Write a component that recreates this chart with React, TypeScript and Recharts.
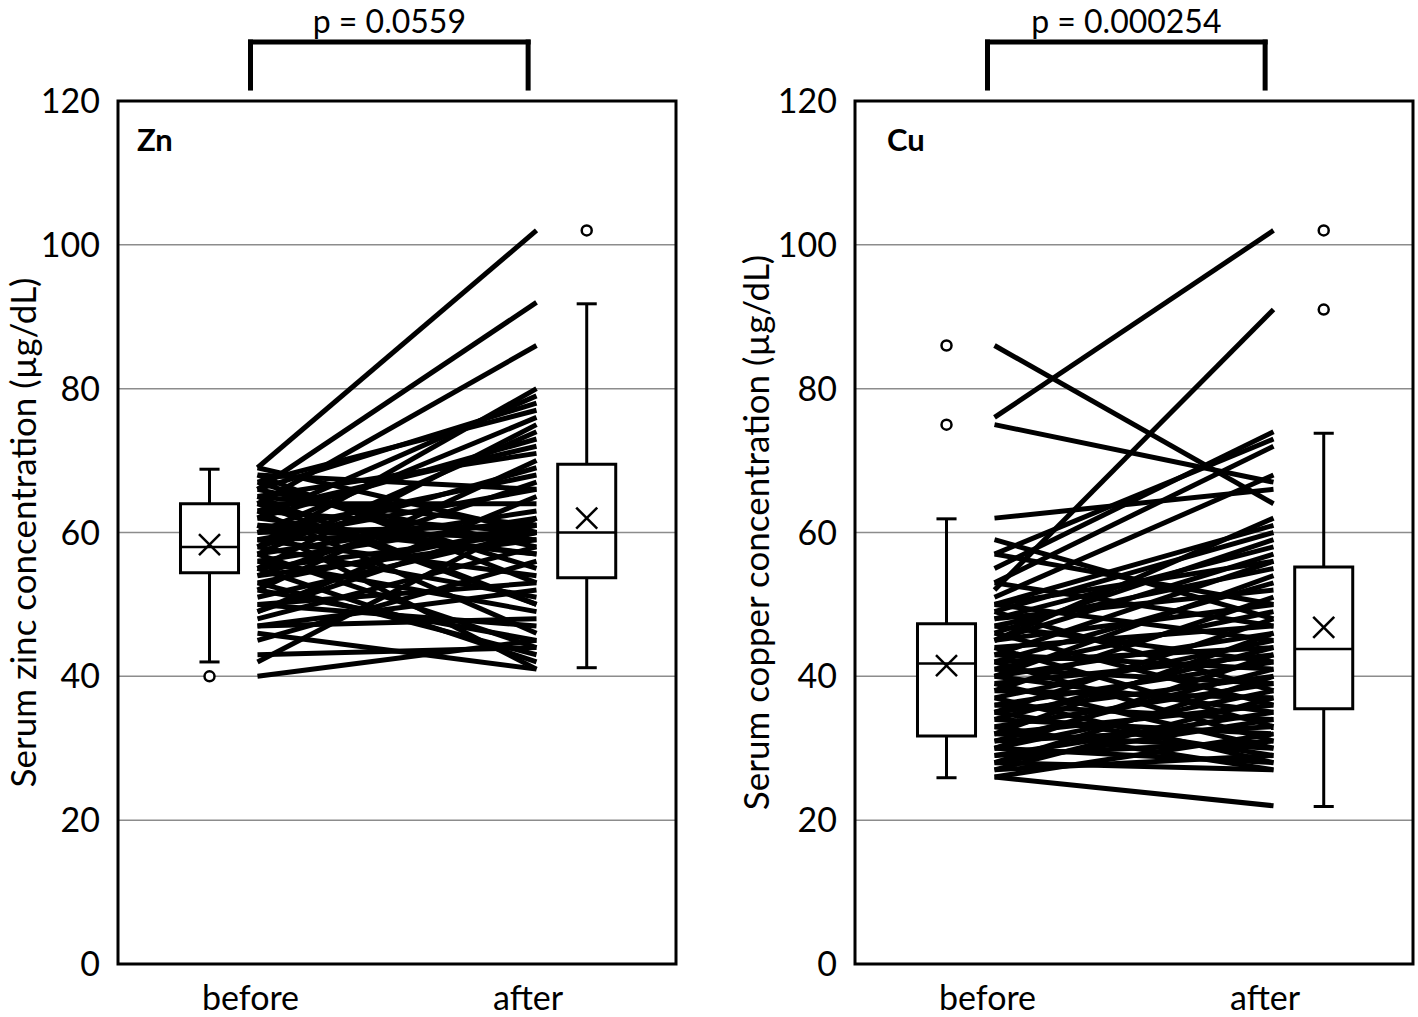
import { ComposedChart, Line, Scatter, XAxis, YAxis, CartesianGrid, ReferenceArea, ReferenceLine, ReferenceDot, Label } from 'recharts'

const categories = ['before', 'after']
const yTicks = [0, 20, 40, 60, 80, 100, 120]

// paired values, one line per patient (approximate)
const zincBefore = [69, 66, 64, 40, 42, 43, 46, 47, 48, 49, 50, 51, 52, 53, 54, 55, 56, 57, 58, 59, 60, 61, 62, 63, 64, 65, 66, 67, 68, 69, 45, 47, 50, 52, 54, 55, 56, 57, 58, 59, 60, 61, 62, 63, 64, 65, 66, 67, 68, 58, 60, 62, 57, 59, 61, 55, 63, 65, 53, 49]
const zincAfter = [102, 92, 86, 45, 62, 44, 41, 52, 58, 65, 47, 60, 70, 43, 59, 75, 49, 63, 80, 54, 68, 41, 57, 72, 50, 61, 78, 55, 66, 60, 56, 48, 53, 45, 67, 42, 62, 74, 51, 60, 76, 59, 79, 46, 64, 71, 58, 77, 53, 69, 61, 73, 44, 66, 57, 60, 60, 50, 61, 62]

const copperBefore = [86, 76, 75, 62, 59, 57, 55, 53, 52, 51, 50, 50, 49, 49, 48, 48, 47, 47, 46, 46, 45, 45, 44, 44, 43, 43, 42, 42, 42, 41, 41, 40, 40, 40, 39, 39, 38, 38, 37, 37, 36, 36, 35, 35, 35, 34, 34, 33, 33, 32, 32, 32, 31, 31, 30, 30, 30, 29, 29, 28, 28, 28, 27, 27, 26, 26, 45, 50, 53, 57]
const copperAfter = [64, 102, 67, 66, 48, 73, 74, 72, 91, 68, 61, 45, 60, 38, 58, 52, 55, 42, 59, 36, 57, 50, 47, 33, 56, 41, 53, 44, 31, 49, 39, 54, 35, 46, 43, 30, 51, 37, 45, 28, 42, 34, 48, 40, 29, 44, 32, 39, 27, 46, 36, 30, 41, 33, 38, 28, 43, 35, 31, 40, 27, 34, 37, 29, 22, 32, 62, 56, 47, 50]

// box stats: [low whisker, q1, median, q3, high whisker, mean]
const zincBoxBefore = [42, 54.4, 58, 64, 68.8, 58.3]
const zincBoxAfter = [41.2, 53.7, 60, 69.5, 91.8, 62]
const zincOutBefore = [40]
const zincOutAfter = [102]
const copperBoxBefore = [25.9, 31.7, 41.8, 47.3, 61.9, 41.5]
const copperBoxAfter = [21.9, 35.5, 43.8, 55.2, 73.8, 46.8]
const copperOutBefore = [75, 86]
const copperOutAfter = [91, 102]

const FONT = 'Lato, "Open Sans", sans-serif'
const LINE_X = [0.5, 1.5]
const BOX_X = [0.328, 1.68]
const BOX_HALF = 0.104
const CAP_HALF = 0.036
const BRACKET_X = [0.475, 1.47]

const MeanMark = (props: any) => {
  const { cx, cy } = props
  const s = 10.5
  return (
    <g stroke="#000" strokeWidth={2.5}>
      <line x1={cx - s} y1={cy - s} x2={cx + s} y2={cy + s} />
      <line x1={cx - s} y1={cy + s} x2={cx + s} y2={cy - s} />
    </g>
  )
}

const OutlierMark = (props: any) => <circle cx={props.cx} cy={props.cy} r={5} fill="#fff" stroke="#000" strokeWidth={2.5} />

function renderBox(key: string, cx: number, s: number[], outs: number[]) {
  const [lo, q1, med, q3, hi, mean] = s
  return [
    <ReferenceLine key={key + 'wu'} segment={[{ x: cx, y: q3 }, { x: cx, y: hi }]} stroke="#000" strokeWidth={3} />,
    <ReferenceLine key={key + 'wl'} segment={[{ x: cx, y: lo }, { x: cx, y: q1 }]} stroke="#000" strokeWidth={3} />,
    <ReferenceLine key={key + 'cu'} segment={[{ x: cx - CAP_HALF, y: hi }, { x: cx + CAP_HALF, y: hi }]} stroke="#000" strokeWidth={3} />,
    <ReferenceLine key={key + 'cl'} segment={[{ x: cx - CAP_HALF, y: lo }, { x: cx + CAP_HALF, y: lo }]} stroke="#000" strokeWidth={3} />,
    <ReferenceArea key={key + 'b'} x1={cx - BOX_HALF} x2={cx + BOX_HALF} y1={q1} y2={q3} fill="#fff" fillOpacity={1} stroke="#000" strokeWidth={3} />,
    <ReferenceLine key={key + 'm'} segment={[{ x: cx - BOX_HALF, y: med }, { x: cx + BOX_HALF, y: med }]} stroke="#000" strokeWidth={2.5} />,
    <Scatter key={key + 'mean'} data={[{ x: cx, y: mean }]} dataKey="y" shape={MeanMark} isAnimationActive={false} />,
    <Scatter key={key + 'o'} data={outs.map((v) => ({ x: cx, y: v }))} dataKey="y" shape={OutlierMark} isAnimationActive={false} />,
  ]
}

interface PanelProps {
  title: string
  titleX: number
  yLabel: string
  yLabelX: number
  axisWidth: number
  marginRight: number
  before: number[]
  after: number[]
  boxBefore: number[]
  boxAfter: number[]
  outBefore: number[]
  outAfter: number[]
  pText: string
}

function Panel(p: PanelProps) {
  return (
    <ComposedChart width={709} height={1017} margin={{ top: 101, right: p.marginRight, bottom: 0, left: 0 }}>
      <CartesianGrid vertical={false} stroke="#8c8c8c" strokeWidth={1.5} />
      <XAxis
        type="number"
        dataKey="x"
        domain={[0, 2]}
        ticks={BRACKET_X}
        tickFormatter={(v: number) => categories[v < 1 ? 0 : 1]}
        axisLine={false}
        tickLine={false}
        height={53}
        tickMargin={16}
        tick={{ fontSize: 34, fill: '#000', fontFamily: FONT }}
      />
      <YAxis
        type="number"
        domain={[0, 120]}
        ticks={yTicks}
        width={p.axisWidth}
        axisLine={false}
        tickLine={false}
        tickMargin={12}
        tick={{ fontSize: 34, fill: '#000', fontFamily: FONT }}
      >
        <Label
          content={(props: any) => {
            const vb = props.viewBox
            const cx = vb.x + p.yLabelX
            const cy = vb.y + vb.height / 2
            return (
              <text x={cx} y={cy} transform={`rotate(-90, ${cx}, ${cy})`} textAnchor="middle" dominantBaseline="central" fontSize={35} fontFamily={FONT} fill="#000">
                {p.yLabel}
              </text>
            )
          }}
        />
      </YAxis>
      {p.before.map((b, i) => (
        <Line
          key={'l' + i}
          data={[{ x: LINE_X[0], y: b }, { x: LINE_X[1], y: p.after[i] }]}
          dataKey="y"
          stroke="#000"
          strokeWidth={5}
          dot={false}
          activeDot={false}
          isAnimationActive={false}
        />
      ))}
      {renderBox('bb', BOX_X[0], p.boxBefore, p.outBefore)}
      {renderBox('ba', BOX_X[1], p.boxAfter, p.outAfter)}
      <ReferenceArea x1={0} x2={2} y1={0} y2={120} fill="none" stroke="#000" strokeWidth={3} ifOverflow="visible" />
      <ReferenceDot
        x={p.titleX}
        y={114.6}
        r={0}
        stroke="none"
        fill="none"
        ifOverflow="visible"
        label={{ value: p.title, position: 'right', offset: 0, fontSize: 31, fontWeight: 700, fill: '#000', fontFamily: FONT }}
      />
      <ReferenceLine segment={[{ x: BRACKET_X[0], y: 121.8 }, { x: BRACKET_X[0], y: 128.2 }]} stroke="#000" strokeWidth={5} strokeLinecap="square" ifOverflow="visible" />
      <ReferenceLine segment={[{ x: BRACKET_X[1], y: 121.8 }, { x: BRACKET_X[1], y: 128.2 }]} stroke="#000" strokeWidth={5} strokeLinecap="square" ifOverflow="visible" />
      <ReferenceLine
        segment={[{ x: BRACKET_X[0], y: 128.2 }, { x: BRACKET_X[1], y: 128.2 }]}
        stroke="#000"
        strokeWidth={5}
        strokeLinecap="square"
        ifOverflow="visible"
        label={{ value: p.pText, position: 'top', offset: 9, fontSize: 32, fill: '#000', fontFamily: FONT }}
      />
    </ComposedChart>
  )
}

export default function App() {
  return (
    <div style={{ position: 'absolute', left: 0, top: 0, width: 1418, height: 1017, background: '#fff', display: 'flex' }}>
      <Panel
        title="Zn"
        titleX={0.068}
        yLabel="Serum zinc concentration (µg/dL)"
        yLabelX={22}
        axisWidth={118}
        marginRight={33}
        before={zincBefore}
        after={zincAfter}
        boxBefore={zincBoxBefore}
        boxAfter={zincBoxAfter}
        outBefore={zincOutBefore}
        outAfter={zincOutAfter}
        pText="p = 0.0559"
      />
      <Panel
        title="Cu"
        titleX={0.115}
        yLabel="Serum copper concentration (µg/dL)"
        yLabelX={46}
        axisWidth={146}
        marginRight={5}
        before={copperBefore}
        after={copperAfter}
        boxBefore={copperBoxBefore}
        boxAfter={copperBoxAfter}
        outBefore={copperOutBefore}
        outAfter={copperOutAfter}
        pText="p = 0.000254"
      />
    </div>
  )
}
